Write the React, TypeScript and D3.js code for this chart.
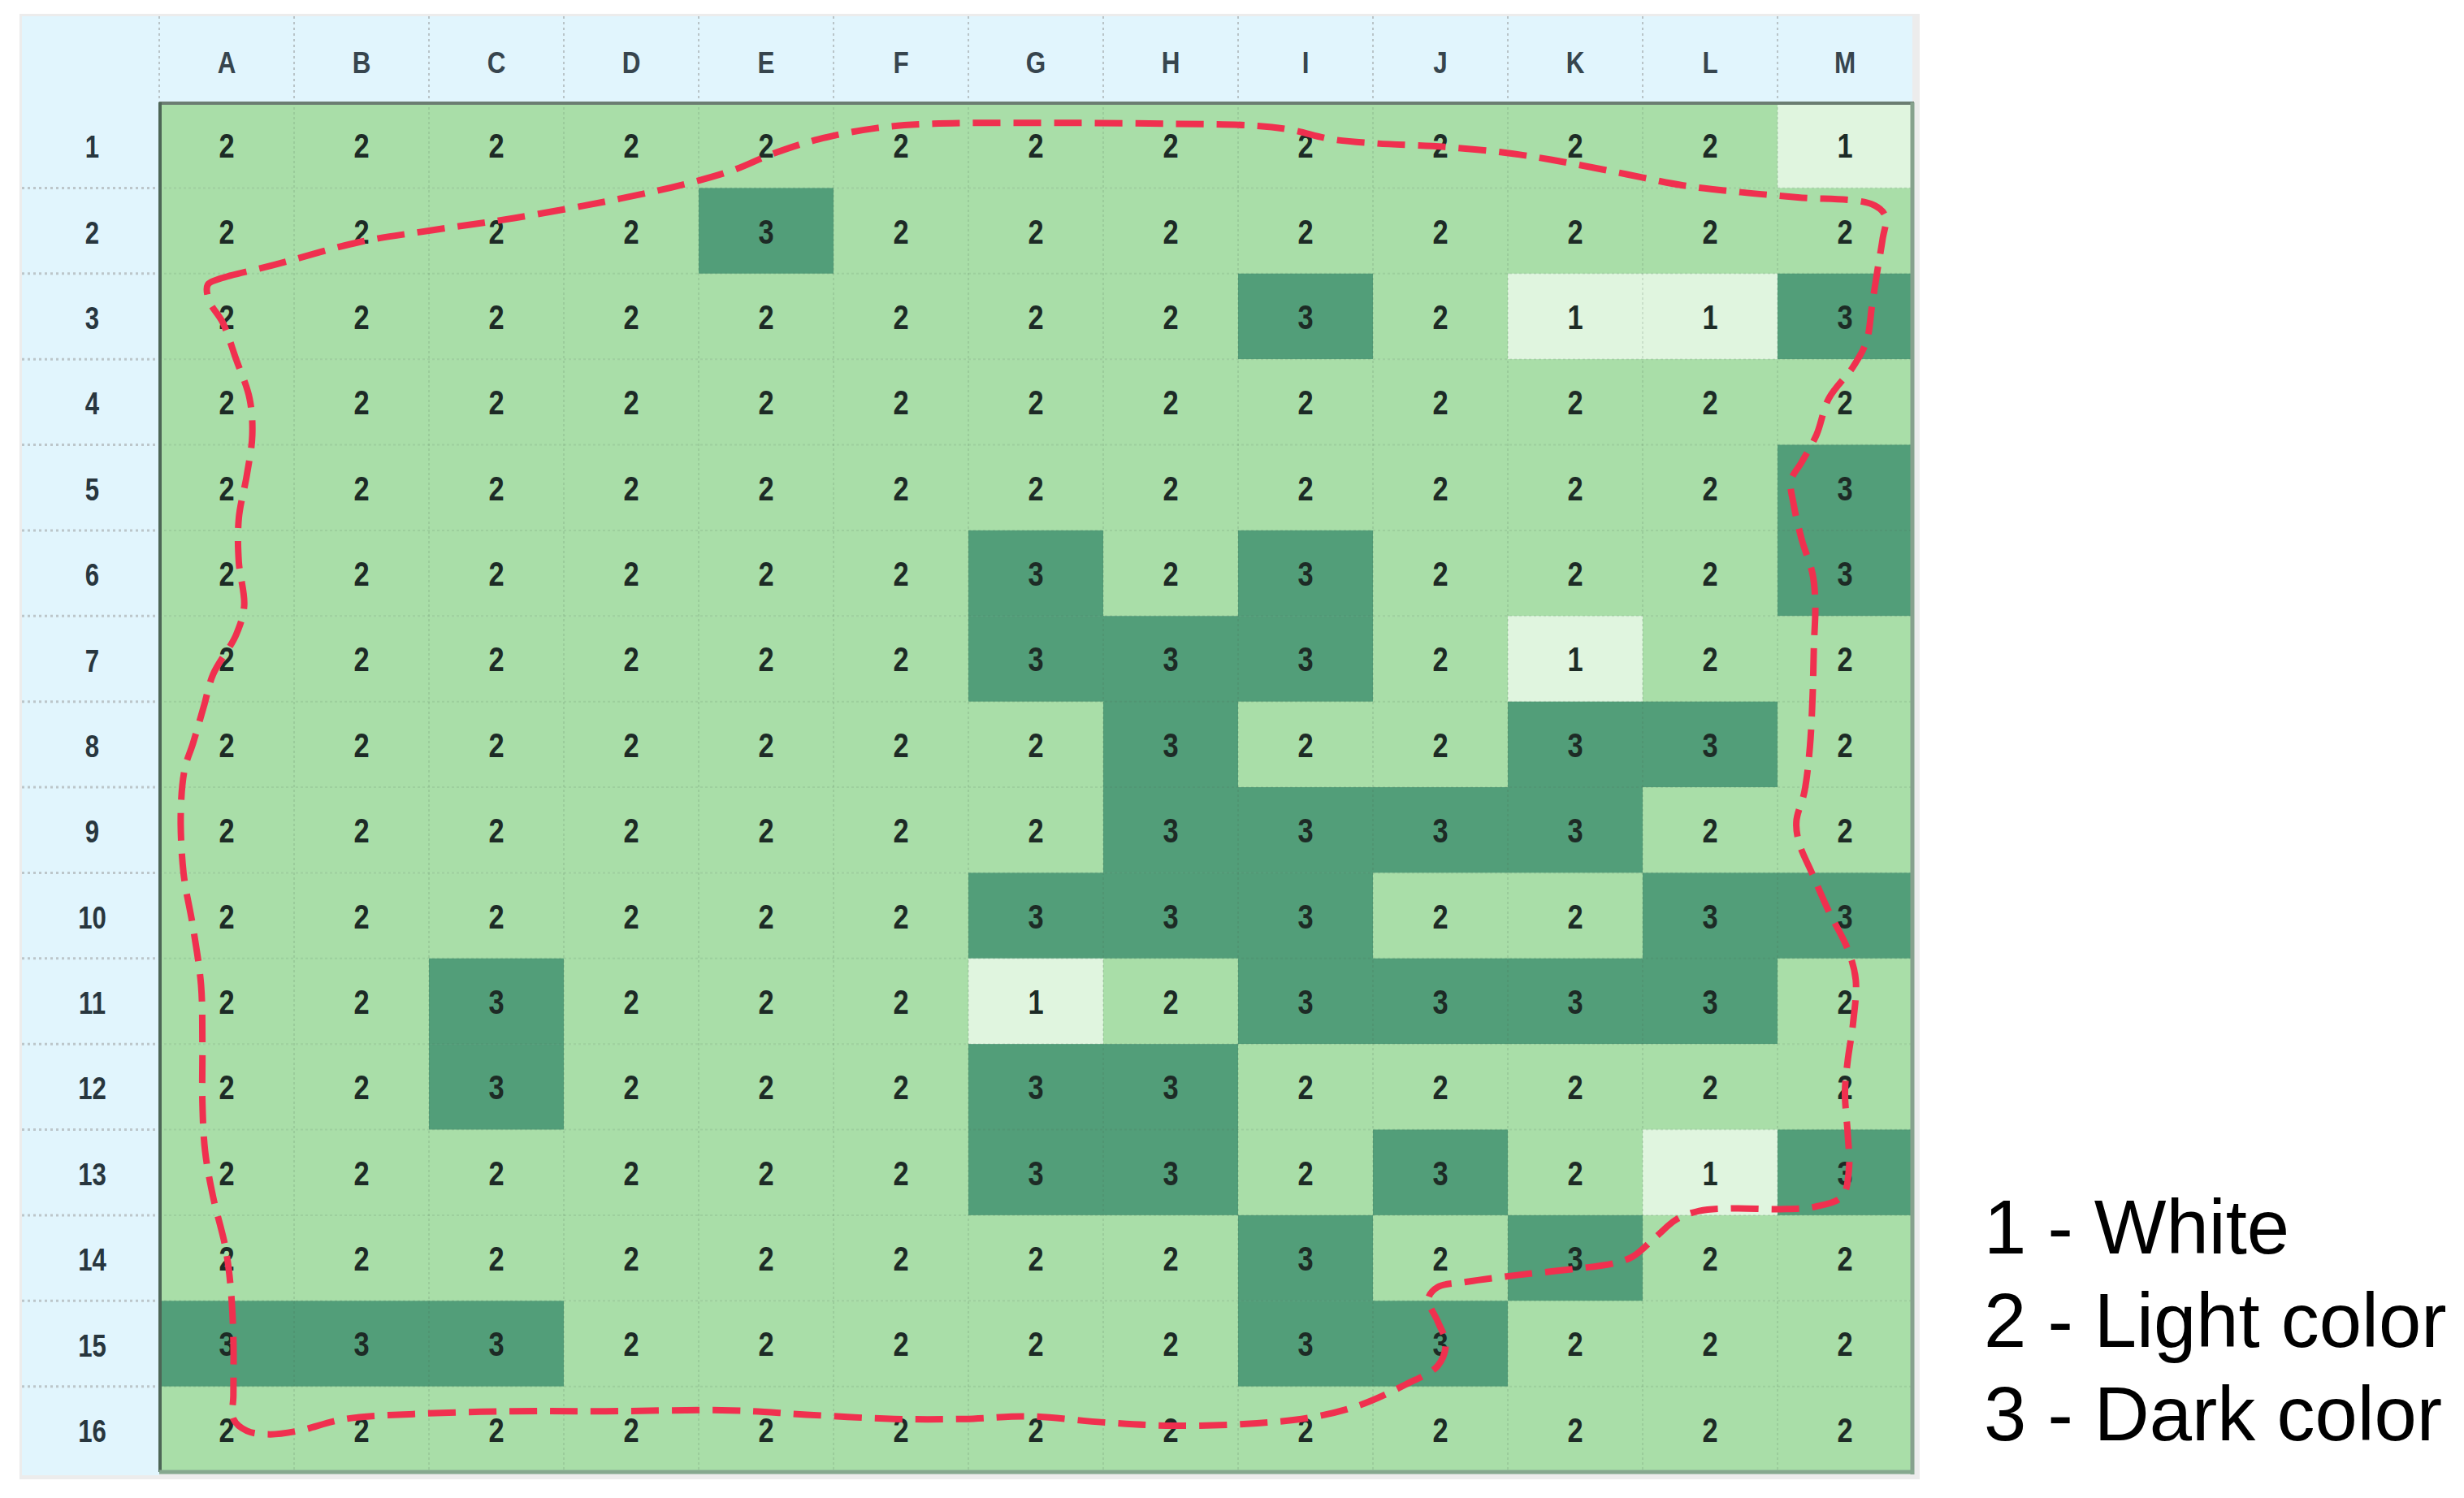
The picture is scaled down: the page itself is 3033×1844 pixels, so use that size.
import React, { useRef, useEffect } from 'react';
import * as d3 from 'd3';

const columns = ['A', 'B', 'C', 'D', 'E', 'F', 'G', 'H', 'I', 'J', 'K', 'L', 'M'];
const rowLabels = ['1', '2', '3', '4', '5', '6', '7', '8', '9', '10', '11', '12', '13', '14', '15', '16'];

// one array per spreadsheet row, columns A..M
const cellValues = [
  [2, 2, 2, 2, 2, 2, 2, 2, 2, 2, 2, 2, 1],
  [2, 2, 2, 2, 3, 2, 2, 2, 2, 2, 2, 2, 2],
  [2, 2, 2, 2, 2, 2, 2, 2, 3, 2, 1, 1, 3],
  [2, 2, 2, 2, 2, 2, 2, 2, 2, 2, 2, 2, 2],
  [2, 2, 2, 2, 2, 2, 2, 2, 2, 2, 2, 2, 3],
  [2, 2, 2, 2, 2, 2, 3, 2, 3, 2, 2, 2, 3],
  [2, 2, 2, 2, 2, 2, 3, 3, 3, 2, 1, 2, 2],
  [2, 2, 2, 2, 2, 2, 2, 3, 2, 2, 3, 3, 2],
  [2, 2, 2, 2, 2, 2, 2, 3, 3, 3, 3, 2, 2],
  [2, 2, 2, 2, 2, 2, 3, 3, 3, 2, 2, 3, 3],
  [2, 2, 3, 2, 2, 2, 1, 2, 3, 3, 3, 3, 2],
  [2, 2, 3, 2, 2, 2, 3, 3, 2, 2, 2, 2, 2],
  [2, 2, 2, 2, 2, 2, 3, 3, 2, 3, 2, 1, 3],
  [2, 2, 2, 2, 2, 2, 2, 2, 3, 2, 3, 2, 2],
  [3, 3, 3, 2, 2, 2, 2, 2, 3, 3, 2, 2, 2],
  [2, 2, 2, 2, 2, 2, 2, 2, 2, 2, 2, 2, 2],
];

const legendLabels = ['1 - White', '2 - Light color', '3 - Dark color'];

// hand-drawn boundary, in grid units: [column offset, row offset] from top-left of A1
const boundary: [number, number][] = [
  [0.36, 2.13], [0.45, 2.06], [0.85, 1.9], [1.49, 1.63], [2.04, 1.49], [2.64, 1.35],
  [3.4, 1.13], [3.91, 0.95], [4.26, 0.79], [4.55, 0.6], [4.89, 0.43], [5.32, 0.3],
  [5.74, 0.25], [6.66, 0.24], [7.51, 0.25], [8.1, 0.27], [8.39, 0.32], [8.69, 0.43],
  [9.03, 0.48], [9.53, 0.52], [10.04, 0.6], [10.46, 0.71], [10.88, 0.84], [11.3, 0.97],
  [11.73, 1.05], [12.15, 1.11], [12.7, 1.19], [12.8, 1.33], [12.78, 1.59], [12.74, 1.97],
  [12.7, 2.38], [12.66, 2.79], [12.56, 3.09], [12.38, 3.46], [12.29, 3.88], [12.18, 4.2],
  [12.1, 4.42], [12.12, 4.7], [12.18, 5.11], [12.26, 5.51], [12.28, 5.87], [12.27, 6.34],
  [12.26, 6.94], [12.24, 7.53], [12.2, 8.05], [12.14, 8.4], [12.16, 8.65], [12.26, 9.02],
  [12.38, 9.45], [12.52, 9.89], [12.58, 10.25], [12.56, 10.76], [12.52, 11.2], [12.5, 11.56],
  [12.52, 12.04], [12.53, 12.45], [12.48, 12.78], [12.28, 12.9], [12.02, 12.93], [11.68, 12.92],
  [11.42, 12.95], [11.25, 13.05], [11.1, 13.25], [10.93, 13.48], [10.79, 13.56], [10.48, 13.63],
  [10.07, 13.7], [9.69, 13.78], [9.48, 13.84], [9.41, 13.98], [9.48, 14.24], [9.54, 14.5],
  [9.48, 14.76], [9.24, 14.98], [8.9, 15.22], [8.55, 15.36], [8.14, 15.43], [7.52, 15.46],
  [7.0, 15.42], [6.45, 15.35], [5.97, 15.38], [5.45, 15.38], [4.8, 15.33], [4.24, 15.28],
  [3.31, 15.29], [2.62, 15.29], [1.93, 15.32], [1.38, 15.38], [1.03, 15.52], [0.82, 15.56],
  [0.65, 15.52], [0.55, 15.38], [0.55, 15.1], [0.55, 14.46], [0.53, 13.85], [0.49, 13.37],
  [0.4, 12.79], [0.34, 12.25], [0.32, 11.67], [0.32, 10.99], [0.31, 10.31], [0.25, 9.63],
  [0.18, 9.0], [0.16, 8.28], [0.19, 7.78], [0.25, 7.49], [0.33, 7.06], [0.4, 6.68],
  [0.57, 6.22], [0.63, 5.88], [0.59, 5.37], [0.59, 4.86], [0.65, 4.35], [0.69, 3.89],
  [0.67, 3.46], [0.57, 3.0], [0.47, 2.57], [0.37, 2.32],
];

const levelColors = { 1: '#e0f5df', 2: '#a9dea8', 3: '#529e79' };

const GridMap = ({ width = 3033, height = 1844 }) => {
  const svgRef = useRef<SVGSVGElement>(null);

  useEffect(() => {
    const svg = d3.select(svgRef.current);
    svg.selectAll('*').remove();
    svg.attr('width', width).attr('height', height);

    const tableLeft = 27;
    const tableTop = 20;
    const gridLeft = 196;
    const gridTop = 126;
    const gridRight = 2354;
    const gridBottom = 1812;
    const sans = "'Liberation Sans', Arial, sans-serif";

    const x = d3.scaleBand().domain(columns).range([gridLeft, gridRight]);
    const y = d3.scaleBand().domain(rowLabels).range([gridTop, gridBottom]);
    const u = d3.scaleLinear().domain([0, columns.length]).range([gridLeft, gridRight]);
    const v = d3.scaleLinear().domain([0, rowLabels.length]).range([gridTop, gridBottom]);

    // table frame + shadow
    svg.append('rect')
      .attr('x', tableLeft - 3).attr('y', tableTop - 3)
      .attr('width', gridRight - tableLeft + 12).attr('height', gridBottom - tableTop + 12)
      .attr('fill', '#ececec');

    // header row & row-label column
    svg.append('rect')
      .attr('x', tableLeft).attr('y', tableTop)
      .attr('width', gridRight - tableLeft).attr('height', gridTop - tableTop)
      .attr('fill', '#e1f5fd');
    svg.append('rect')
      .attr('x', tableLeft).attr('y', tableTop)
      .attr('width', gridLeft - tableLeft).attr('height', gridBottom - tableTop + 4)
      .attr('fill', '#e1f5fd');

    // dotted separators in headers
    svg.append('g').selectAll('line')
      .data(columns.slice(1))
      .enter().append('line')
      .attr('x1', d => x(d)).attr('x2', d => x(d))
      .attr('y1', tableTop).attr('y2', gridTop)
      .attr('stroke', '#b9c4c8').attr('stroke-width', 2).attr('stroke-dasharray', '3 4');
    svg.append('line')
      .attr('x1', gridLeft).attr('x2', gridLeft)
      .attr('y1', tableTop).attr('y2', gridTop)
      .attr('stroke', '#b9c4c8').attr('stroke-width', 2).attr('stroke-dasharray', '3 4');
    svg.append('g').selectAll('line')
      .data(rowLabels.slice(1))
      .enter().append('line')
      .attr('x1', tableLeft).attr('x2', gridLeft)
      .attr('y1', d => y(d)).attr('y2', d => y(d))
      .attr('stroke', '#bcc6ca').attr('stroke-width', 3).attr('stroke-dasharray', '3 4');

    // cells
    const cells = cellValues.flatMap((row, r) =>
      row.map((val, c) => ({ col: columns[c], row: rowLabels[r], val })));

    svg.append('g').selectAll('rect')
      .data(cells)
      .enter().append('rect')
      .attr('x', d => x(d.col))
      .attr('y', d => y(d.row))
      .attr('width', x.bandwidth() + 0.5)
      .attr('height', y.bandwidth() + 0.5)
      .attr('fill', d => levelColors[d.val]);

    // faint grid inside data area
    svg.append('g').selectAll('line')
      .data(columns.slice(1))
      .enter().append('line')
      .attr('x1', d => x(d)).attr('x2', d => x(d))
      .attr('y1', gridTop).attr('y2', gridBottom)
      .attr('stroke', 'rgba(70,100,80,0.14)').attr('stroke-width', 2).attr('stroke-dasharray', '3 3');
    svg.append('g').selectAll('line')
      .data(rowLabels.slice(1))
      .enter().append('line')
      .attr('x1', gridLeft).attr('x2', gridRight)
      .attr('y1', d => y(d)).attr('y2', d => y(d))
      .attr('stroke', 'rgba(70,100,80,0.12)').attr('stroke-width', 2).attr('stroke-dasharray', '3 3');

    // data area border
    svg.append('line').attr('x1', gridLeft).attr('x2', gridRight + 2)
      .attr('y1', gridTop + 1).attr('y2', gridTop + 1)
      .attr('stroke', '#6b7d72').attr('stroke-width', 4);
    svg.append('line').attr('x1', gridLeft + 1).attr('x2', gridLeft + 1)
      .attr('y1', gridTop).attr('y2', gridBottom)
      .attr('stroke', '#4d6656').attr('stroke-width', 4);
    svg.append('line').attr('x1', gridRight).attr('x2', gridRight)
      .attr('y1', gridTop).attr('y2', gridBottom + 3)
      .attr('stroke', '#86a18d').attr('stroke-width', 5);
    svg.append('line').attr('x1', gridLeft).attr('x2', gridRight + 2)
      .attr('y1', gridBottom).attr('y2', gridBottom)
      .attr('stroke', '#86a88f').attr('stroke-width', 5);

    // column letters (condensed look via horizontal squeeze)
    svg.append('g').selectAll('text')
      .data(columns)
      .enter().append('text')
      .attr('transform', d => `translate(${x(d) + x.bandwidth() / 2},${(tableTop + gridTop) / 2 + 4}) scale(0.85,1)`)
      .attr('dy', '0.36em')
      .attr('text-anchor', 'middle')
      .attr('font-family', sans)
      .attr('font-weight', 'bold')
      .attr('font-size', 37)
      .attr('fill', '#37454e')
      .text(d => d);

    // row numbers
    svg.append('g').selectAll('text')
      .data(rowLabels)
      .enter().append('text')
      .attr('transform', d => `translate(${(tableLeft + gridLeft) / 2 + 2},${y(d) + y.bandwidth() / 2 + 2}) scale(0.82,1)`)
      .attr('dy', '0.36em')
      .attr('text-anchor', 'middle')
      .attr('font-family', sans)
      .attr('font-weight', 'bold')
      .attr('font-size', 38)
      .attr('fill', '#28363e')
      .text(d => d);

    // cell values
    svg.append('g').selectAll('text')
      .data(cells)
      .enter().append('text')
      .attr('transform', d => `translate(${x(d.col) + x.bandwidth() / 2},${y(d.row) + y.bandwidth() / 2}) scale(0.8,1)`)
      .attr('dy', '0.36em')
      .attr('text-anchor', 'middle')
      .attr('font-family', sans)
      .attr('font-weight', 'bold')
      .attr('font-size', 43)
      .attr('fill', '#1d2b26')
      .text(d => d.val);

    // dashed boundary
    const line = d3.line<[number, number]>()
      .x(d => u(d[0]))
      .y(d => v(d[1]))
      .curve(d3.curveCatmullRomClosed.alpha(0.5));

    svg.append('path')
      .datum(boundary)
      .attr('fill', 'none')
      .attr('stroke', '#f0304f')
      .attr('stroke-width', 8)
      .attr('stroke-dasharray', '34 16')
      .attr('d', line);

    // legend
    svg.append('g').selectAll('text')
      .data(legendLabels)
      .enter().append('text')
      .attr('x', 2442)
      .attr('y', (d, i) => 1543 + i * 115)
      .attr('font-family', sans)
      .attr('font-size', 94)
      .attr('fill', '#000')
      .text(d => d);
  }, [width, height]);

  return <svg ref={svgRef} style={{ position: 'absolute', left: 0, top: 0, display: 'block' }}></svg>;
};

export default function App() {
  return (
    <div style={{ background: '#fff' }}>
      <GridMap />
    </div>
  );
}
